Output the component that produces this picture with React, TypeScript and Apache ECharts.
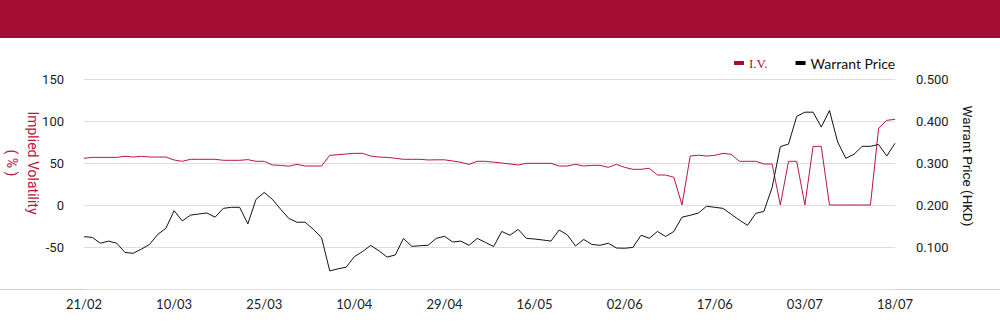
import React, { useEffect, useRef } from "react";
import * as echarts from "echarts";

const dates: string[] = [
  "21/02", "24/02", "25/02", "26/02", "27/02", "28/02",
  "03/03", "04/03", "05/03", "06/03", "07/03",
  "10/03", "11/03", "12/03", "13/03", "14/03",
  "17/03", "18/03", "19/03", "20/03", "21/03",
  "24/03", "25/03", "26/03", "27/03", "28/03",
  "31/03", "01/04", "02/04", "03/04",
  "07/04", "08/04", "09/04", "10/04", "11/04",
  "14/04", "15/04", "16/04", "17/04",
  "22/04", "23/04", "24/04", "25/04",
  "28/04", "29/04", "30/04", "02/05",
  "06/05", "07/05", "08/05", "09/05",
  "12/05", "13/05", "14/05", "15/05", "16/05",
  "19/05", "20/05", "21/05", "22/05", "23/05",
  "26/05", "27/05", "28/05", "29/05", "30/05",
  "02/06", "03/06", "04/06", "05/06", "06/06",
  "09/06", "10/06", "11/06", "12/06", "13/06",
  "16/06", "17/06", "18/06", "19/06", "20/06",
  "23/06", "24/06", "25/06", "26/06", "27/06",
  "30/06", "02/07", "03/07", "04/07",
  "07/07", "08/07", "09/07", "10/07", "11/07",
  "14/07", "15/07", "16/07", "17/07", "18/07",
];

const impliedVolatility: number[] = [
  55.6, 56.7, 56.7, 56.7, 56.7, 58, 57.1, 58, 57.1, 57.1,
  57.1, 53.6, 52, 54.4, 54.4, 54.4, 54.4, 53.2, 53.2, 53.2,
  54, 52, 52, 47.6, 47.2, 46.2, 48.4, 46.4, 46.4, 46.4,
  59.1, 59.9, 60.7, 61.5, 61.5, 58.3, 57.1, 56.7, 55.6, 54.4,
  54.4, 54.4, 53.6, 53.8, 53.8, 52.4, 50.8, 48.4, 52, 52,
  51, 50, 48.8, 47.6, 49.6, 49.6, 49.6, 49.6, 46.4, 46.4,
  48.4, 46.4, 47.2, 47.2, 44.8, 48.4, 44.8, 42.5, 42.5, 43.7,
  35.7, 35.7, 33, 0, 58.3, 59.3, 58.3, 59.1, 61.5, 60.3,
  52, 52, 52, 48.8, 48.8, 0, 52, 52, 0, 69.8,
  69.8, 0, 0, 0, 0, 0, 0, 91.3, 100.8, 102,
];

const warrantPrice: number[] = [
  0.1245, 0.123, 0.109, 0.114, 0.109, 0.087, 0.085, 0.095, 0.106, 0.13,
  0.1445, 0.1865, 0.162, 0.176, 0.1785, 0.181, 0.171, 0.192, 0.1945, 0.1945,
  0.155, 0.2135, 0.23, 0.2135, 0.19, 0.168, 0.159, 0.159, 0.142, 0.122,
  0.043, 0.048, 0.052, 0.077, 0.089, 0.104, 0.091, 0.076, 0.081, 0.1205,
  0.1015, 0.103, 0.104, 0.1205, 0.1255, 0.112, 0.114, 0.104, 0.1205, 0.111,
  0.101, 0.137, 0.128, 0.142, 0.1205, 0.119, 0.1167, 0.114, 0.1405, 0.129,
  0.1024, 0.118, 0.106, 0.104, 0.109, 0.0976, 0.097, 0.099, 0.128, 0.1207,
  0.137, 0.125, 0.137, 0.171, 0.1755, 0.181, 0.197, 0.1945, 0.192, 0.178,
  0.164, 0.1516, 0.18, 0.185, 0.2417, 0.339, 0.345, 0.411, 0.421, 0.421,
  0.3855, 0.425, 0.35, 0.311, 0.321, 0.3397, 0.3397, 0.344, 0.3167, 0.347,
];

const RED = "#A50E32";
const LINE_RED = "#B8163F";

export default function App() {
  const ref = useRef<HTMLDivElement>(null);

  useEffect(() => {
    if (!ref.current) return;
    const chart = echarts.init(ref.current, undefined, { renderer: "svg" });
    chart.setOption({
      animation: false,
      backgroundColor: "#fff",
      grid: { left: 84, right: 105, top: 79, bottom: 35, containLabel: false },
      legend: {
        left: 729,
        top: 51,
        itemWidth: 10,
        itemHeight: 4,
        itemGap: 28,
        icon: "rect",
        data: [
          {
            name: "I.V.",
            itemStyle: { color: RED },
            textStyle: { color: RED, fontFamily: "Liberation Serif, DejaVu Serif, serif", fontSize: 13 },
          },
          {
            name: "Warrant Price",
            itemStyle: { color: "#000" },
            textStyle: { color: "#111", fontFamily: "Lato, Open Sans, sans-serif", fontSize: 14 },
          },
        ],
      },
      xAxis: {
        type: "category",
        data: dates,
        boundaryGap: false,
        axisLine: { show: false },
        axisTick: { show: false },
        axisLabel: {
          interval: 10,
          margin: 8,
          color: "#222",
          fontSize: 13,
          fontFamily: "Lato, Open Sans, sans-serif",
        },
        splitLine: { show: false },
      },
      yAxis: [
        {
          type: "value",
          min: -100,
          max: 150,
          interval: 50,
          position: "left",
          axisLine: { show: false },
          axisTick: { show: false },
          axisLabel: {
            showMinLabel: false,
            color: "#222",
            fontSize: 13,
            margin: 20,
            fontFamily: "Roboto, sans-serif",
          },
          splitLine: { show: true, lineStyle: { color: "#dddddd", width: 1 } },
        },
        {
          type: "value",
          min: 0,
          max: 0.5,
          interval: 0.1,
          position: "right",
          axisLine: { show: false },
          axisTick: { show: false },
          axisLabel: {
            showMinLabel: false,
            color: "#222",
            fontSize: 13,
            margin: 21,
            fontFamily: "Roboto, sans-serif",
            formatter: (v: number) => v.toFixed(3),
          },
          splitLine: { show: false },
        },
      ],
      series: [
        {
          name: "I.V.",
          type: "line",
          yAxisIndex: 0,
          data: impliedVolatility,
          showSymbol: false,
          symbol: "none",
          lineStyle: { color: LINE_RED, width: 1 },
          itemStyle: { color: RED },
        },
        {
          name: "Warrant Price",
          type: "line",
          yAxisIndex: 1,
          data: warrantPrice,
          showSymbol: false,
          symbol: "none",
          lineStyle: { color: "#111", width: 1 },
          itemStyle: { color: "#000" },
        },
      ],
      graphic: [
        { type: "rect", left: 0, top: 0, shape: { x: 0, y: 0, width: 1000, height: 38 }, style: { fill: RED }, silent: true },
        { type: "line", shape: { x1: 0, y1: 289.5, x2: 1000, y2: 289.5 }, style: { stroke: "#cccccc", lineWidth: 1 }, silent: true },
        {
          type: "text",
          x: 22,
          y: 163,
          rotation: -Math.PI / 2,
          style: {
            text: "Implied Volatility\n( % )",
            fill: LINE_RED,
            font: "14px Roboto, sans-serif",
            align: "center",
            verticalAlign: "middle",
            lineHeight: 21,
          },
          silent: true,
        },
        {
          type: "text",
          x: 968,
          y: 166,
          rotation: -Math.PI / 2,
          style: {
            text: "Warrant Price (HKD)",
            fill: "#111",
            font: "13.5px Roboto, sans-serif",
            align: "center",
            verticalAlign: "middle",
          },
          silent: true,
        },
      ],
    });
    return () => chart.dispose();
  }, []);

  return (
    <div
      ref={ref}
      style={{ position: "fixed", left: 0, top: 0, width: 1000, height: 324, background: "#fff" }}
    />
  );
}
